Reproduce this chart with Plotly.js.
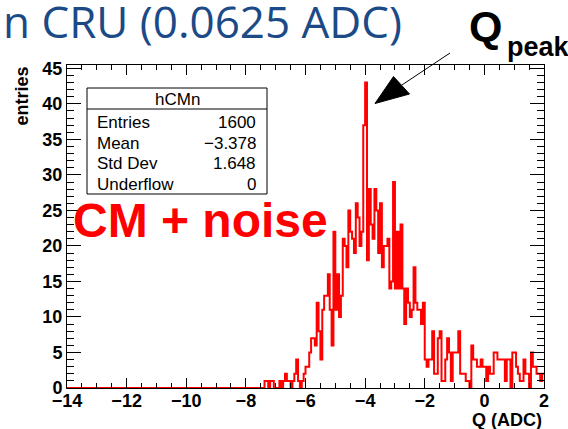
<!DOCTYPE html>
<html>
<head>
<meta charset="utf-8">
<script src="https://cdn.plot.ly/plotly-3.0.1.min.js"></script>
<style>
  html, body { margin: 0; padding: 0; background: #fff; }
  #chart { width: 568px; height: 429px; }
</style>
</head>
<body>
<div id="chart"></div>
<script>
// Histogram hCMn: 256 bins of 0.0625 ADC from -14 to 2
const binLow = -14;
const binWidth = 0.0625;
const counts = [
  0,0,0,0,0,0,0,0, 0,0,0,0,0,0,0,0,
  0,0,0,0,0,0,0,0, 0,0,0,0,0,0,0,0,
  0,0,0,0,0,0,0,0, 0,0,0,0,0,0,0,0,
  0,0,0,0,0,0,0,0, 0,0,0,0,0,0,0,0,
  0,0,0,0,0,0,0,0, 0,0,0,0,0,0,0,0,
  0,0,0,0,0,0,0,0, 0,0,0,0,0,0,0,0,
  0,0,0,0,0,0,0,0, 0,0,1,1,0,1,1,0,
  0,0,1,0,1,2,1,1, 0,1,2,4,1,0,1,2,
  3,3,5,7,7,6,12,8, 4,11,13,13,16,11,6,22,
  11,16,10,13,21,20,17,25, 22,21,19,26,24,20,22,37,
  43,18,28,23,21,28,25,19, 26,17,20,20,21,14,15,29,
  14,22,14,23,14,9,14,12, 10,11,17,12,11,11,9,12,
  4,3,4,4,8,2,2,7, 8,1,1,4,7,5,1,5,
  5,5,8,2,2,2,1,1, 0,6,4,4,3,3,4,3,
  3,1,3,2,2,5,5,4, 4,4,4,1,4,4,0,5,
  5,3,2,1,1,4,2,2, 0,5,3,3,2,2,1,2
];

// Statistics box contents
const histName = 'hCMn';
const statNames = ['Entries', 'Mean', 'Std Dev', 'Underflow'];
const statValues = ['1600', '\u22123.378', '1.648', '0'];

// Axis ranges and labels
const xRange = [-14, 2];
const yRange = [0, 45.47];
const xTitle = 'Q (ADC)';
const yTitle = 'entries';
const headerText = 'n CRU (0.0625 ADC)';
const tagText = 'CM + noise';

// Step outline: left edge of every bin, closed at the upper edge of the last bin
const edgesX = [];
const stepY = [];
counts.forEach((c, i) => { edgesX.push(binLow + i * binWidth); stepY.push(c); });
edgesX.push(binLow + counts.length * binWidth);
stepY.push(counts[counts.length - 1]);

// Page geometry (pixels) and helpers to place decorations in paper units
const W = 568, H = 429;
const M = { l: 67, r: 24, t: 65, b: 41 };
const PW = W - M.l - M.r, PH = H - M.t - M.b;
const px = p => (p - M.l) / PW;
const py = p => (H - M.b - p) / PH;

const ROOT_FONT = 'Liberation Sans, Arial, Helvetica, sans-serif';

const trace = {
  type: 'scatter',
  mode: 'lines',
  x: edgesX,
  y: stepY,
  line: { shape: 'hv', color: '#ff0000', width: 2 },
  hoverinfo: 'skip'
};

const axisCommon = {
  showgrid: false,
  zeroline: false,
  showline: true,
  linecolor: '#000',
  linewidth: 1,
  mirror: 'ticks',
  ticks: 'inside',
  tickcolor: '#000',
  tickwidth: 1,
  tickfont: { family: ROOT_FONT, size: 18, color: '#000', weight: 'bold' }
};

const xaxis = Object.assign({}, axisCommon, {
  range: xRange,
  tick0: -14,
  dtick: 2,
  ticklen: 10,
  ticklabelstandoff: -4,
  minor: { dtick: 0.5, tick0: -14, ticks: 'inside', ticklen: 5, tickcolor: '#000', tickwidth: 1 }
});

const yaxis = Object.assign({}, axisCommon, {
  range: yRange,
  tick0: 0,
  dtick: 5,
  ticklen: 14,
  minor: { dtick: 1, tick0: 0, ticks: 'inside', ticklen: 7, tickcolor: '#000', tickwidth: 1 }
});

// Statistics box layout
const box = { x0: 87, x1: 267, y0: 88, y1: 194, headerY: 109 };
const rowY = [122, 143, 163, 184];

const annotations = [
  { text: headerText, xref: 'paper', yref: 'paper', x: px(1), y: py(21), xanchor: 'left', yanchor: 'middle',
    showarrow: false, font: { family: 'Open Sans', size: 44, color: '#1b4a87' } },
  { text: 'Q', xref: 'paper', yref: 'paper', x: px(467), y: py(26), xanchor: 'left', yanchor: 'middle',
    showarrow: false, font: { family: ROOT_FONT, size: 43, color: '#000', weight: 'bold' } },
  { text: 'peak', xref: 'paper', yref: 'paper', x: px(505), y: py(47), xanchor: 'left', yanchor: 'middle',
    showarrow: false, font: { family: ROOT_FONT, size: 27, color: '#000', weight: 'bold' } },
  { text: tagText, xref: 'paper', yref: 'paper', x: px(71), y: py(220), xanchor: 'left', yanchor: 'middle',
    showarrow: false, font: { family: ROOT_FONT, size: 48, color: '#ff0000', weight: 'bold' } },
  { text: yTitle, xref: 'paper', yref: 'paper', x: px(21), y: 1, xanchor: 'center', yanchor: 'top', textangle: -90,
    showarrow: false, font: { family: ROOT_FONT, size: 18, color: '#000', weight: 'bold' } },
  { text: xTitle, xref: 'paper', yref: 'paper', x: 1, y: py(420), xanchor: 'right', yanchor: 'middle',
    showarrow: false, font: { family: ROOT_FONT, size: 18, color: '#000', weight: 'bold' } },
  { text: histName, xref: 'paper', yref: 'paper', x: px((box.x0 + box.x1) / 2), y: py(99), xanchor: 'center', yanchor: 'middle',
    showarrow: false, font: { family: ROOT_FONT, size: 17, color: '#000' } }
];
statNames.forEach((n, i) => {
  annotations.push({ text: n, xref: 'paper', yref: 'paper', x: px(95), y: py(rowY[i]), xanchor: 'left', yanchor: 'middle',
    showarrow: false, font: { family: ROOT_FONT, size: 17, color: '#000' } });
  annotations.push({ text: statValues[i], xref: 'paper', yref: 'paper', x: px(258), y: py(rowY[i]), xanchor: 'right', yanchor: 'middle',
    showarrow: false, font: { family: ROOT_FONT, size: 17, color: '#000' } });
});

// Arrow pointing at the peak: thin shaft plus a filled triangular head
const tip = [375, 103.5], headA = [393.5, 76.5], headB = [409.5, 94], tail = [450, 53];
const shapes = [
  { type: 'rect', xref: 'paper', yref: 'paper', x0: px(box.x0), x1: px(box.x1), y0: py(box.y1), y1: py(box.y0),
    line: { color: '#000', width: 1 }, fillcolor: '#fff' },
  { type: 'line', xref: 'paper', yref: 'paper', x0: px(box.x0), x1: px(box.x1), y0: py(box.headerY), y1: py(box.headerY),
    line: { color: '#000', width: 1 } },
  { type: 'line', xref: 'paper', yref: 'paper', x0: px(tail[0]), y0: py(tail[1]),
    x1: px((headA[0] + headB[0]) / 2), y1: py((headA[1] + headB[1]) / 2), line: { color: '#000', width: 1 } },
  { type: 'path', xref: 'paper', yref: 'paper',
    path: `M ${px(tip[0])},${py(tip[1])} L ${px(headA[0])},${py(headA[1])} L ${px(headB[0])},${py(headB[1])} Z`,
    fillcolor: '#000', line: { color: '#000', width: 1 } }
];

const layout = {
  width: W, height: H,
  margin: M,
  paper_bgcolor: '#fff',
  plot_bgcolor: '#fff',
  showlegend: false,
  font: { family: ROOT_FONT, color: '#000' },
  xaxis: xaxis,
  yaxis: yaxis,
  annotations: annotations,
  shapes: shapes
};

Plotly.newPlot('chart', [trace], layout, { displayModeBar: false, staticPlot: true });
</script>
</body>
</html>
